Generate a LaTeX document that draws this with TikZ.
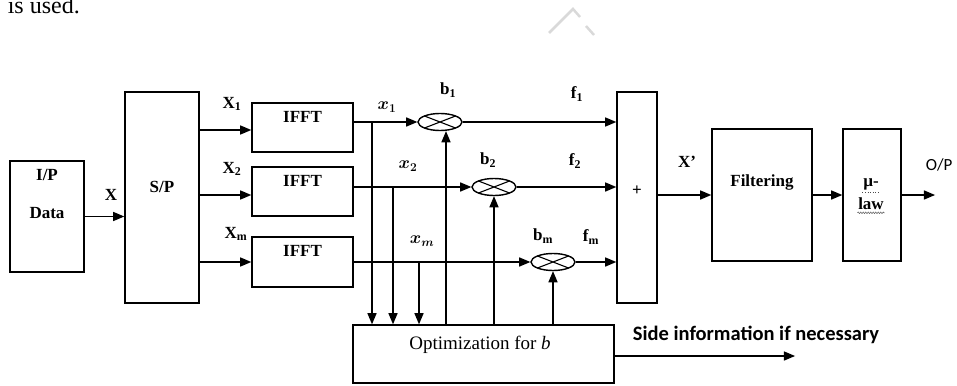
\documentclass[tikz,border=0pt]{standalone}
\usepackage{fontspec}
\setmainfont{Liberation Serif}
\newfontfamily\calfont{Carlito}
\usepackage{bm}
\usepackage{tikz}
\usetikzlibrary{arrows,positioning,shapes.geometric,decorations.pathmorphing}

\tikzset{
    box/.style={draw=black, line width=1.5pt, inner sep=0pt},
    txt/.style={inner sep=0pt, font=\fontsize{17}{20}\selectfont\bfseries},
    mult/.style={draw=black, ellipse, line width=1.4pt, inner sep=0pt,
        minimum width=44pt, minimum height=17pt,
        path picture={\draw[line width=1.1pt]
            (path picture bounding box.north west) -- (path picture bounding box.south east)
            (path picture bounding box.north east) -- (path picture bounding box.south west);}}
}

\begin{document}
\begin{tikzpicture}[x=1pt,y=-1pt]
\useasboundingbox (0,0) rectangle (957,385);
\begin{scope}[>=triangle 45,line width=1.6pt]

    \node[txt, font=\fontsize{24}{26}\selectfont, anchor=base west] (used) at (7,14) {is used.};
    \draw[black!15, line width=2.5pt] (549,33) -- (573,9) -- (580,17);
    \draw[black!15, line width=2.5pt] (586,26) -- (594,35);

    \node[box, minimum width=74pt, minimum height=111pt] (inp) at (47,216.5) {};
    \node[txt] (inplbl) at (47,175) {I/P};
    \node[txt] (datalbl) at (47,213) {Data};
    \node[box, minimum width=74pt, minimum height=211pt] (sp) at (162,197.5) {};
    \node[txt] (splbl) at (162,187) {S/P};
    \draw[->] (inp.east) -- (inp.east -| sp.west);
    \node[txt] (xlbl) at (111,195) {X};

    \node[box, minimum width=101pt, minimum height=49pt] (ifft1) at (302.5,127.5) {};
    \node[box, minimum width=101pt, minimum height=49pt] (ifft2) at (302.5,191.5) {};
    \node[box, minimum width=101pt, minimum height=50pt] (ifft3) at (302.5,262) {};
    \node[txt, below=8pt of ifft1.north] (ifftlbl1) {IFFT};
    \node[txt, below=8pt of ifft2.north] (ifftlbl2) {IFFT};
    \node[txt, below=8pt of ifft3.north] (ifftlbl3) {IFFT};
    \draw[->] ([yshift=-2.5pt]ifft1.west -| sp.east) -- ([yshift=-2.5pt]ifft1.west);
    \draw[->] ([yshift=-3.5pt]ifft2.west -| sp.east) -- ([yshift=-3.5pt]ifft2.west);
    \draw[->] (ifft3.west -| sp.east) -- (ifft3.west);
    \node[txt] (X1lbl) at (232,104) {X\textsubscript{1}};
    \node[txt] (X2lbl) at (232,169) {X\textsubscript{2}};
    \node[txt] (Xmlbl) at (236,234) {X\textsubscript{m}};

    \node[mult] (m1) at (440,122) {};
    \node[mult] (m2) at (494,187) {};
    \node[mult] (m3) at (553,262) {};
    \node[box, minimum width=40pt, minimum height=211pt] (sum) at (637,197.5) {};
    \node[txt] (sumlbl) at (637,191) {+};
    \draw[->] (m1.west -| ifft1.east) -- (m1.west);
    \draw[->] (m2.west -| ifft2.east) -- (m2.west);
    \draw[->] (m3.west -| ifft3.east) -- (m3.west);
    \draw[->] (m1.east) -- (m1.east -| sum.west);
    \draw[->] (m2.east) -- (m2.east -| sum.west);
    \draw[->] (m3.east) -- (m3.east -| sum.west);
    \node[txt] (x1lbl) at (387,107) {$\bm{x}_{\bm{1}}$};
    \node[txt] (x2lbl) at (408,166) {$\bm{x}_{\bm{2}}$};
    \node[txt] (xmlbl) at (422,241) {$\bm{x}_{\bm{m}}$};
    \node[txt] (b1lbl) at (448,90) {b\textsubscript{1}};
    \node[txt] (b2lbl) at (488,160) {b\textsubscript{2}};
    \node[txt] (bmlbl) at (543,236) {b\textsubscript{m}};
    \node[txt] (f1lbl) at (577,94) {f\textsubscript{1}};
    \node[txt] (f2lbl) at (575,161) {f\textsubscript{2}};
    \node[txt] (fmlbl) at (591,237) {f\textsubscript{m}};

    \node[box, minimum width=261pt, minimum height=58pt] (opt) at (483.5,354) {};
    \node[txt, font=\fontsize{19}{22}\selectfont] (optlbl) at (480,345) {Optimization for \textit{b}};
    \coordinate (tap1) at (372,122);
    \coordinate (tap2) at (393,187);
    \coordinate (tap3) at (419,262);
    \draw[->] (tap1) -- (tap1 |- opt.north);
    \draw[->] (tap2) -- (tap2 |- opt.north);
    \draw[->] (tap3) -- (tap3 |- opt.north);
    \draw[->] ([xshift=6pt]opt.north -| m1.south) -- ([xshift=6pt]m1.south);
    \draw[->] (opt.north -| m2.south) -- (m2.south);
    \draw[->] (opt.north -| m3.south) -- (m3.south);
    \coordinate (side) at (795,356);
    \draw[->] (opt.east |- side) -- (side);
    \node[txt, font=\fontsize{20.5}{23}\selectfont\calfont\bfseries] (sidelbl) at (756,335) {Side information if necessary};

    \node[box, minimum width=100pt, minimum height=132pt] (filt) at (762,195) {};
    \node[txt] (filtlbl) at (762,182) {Filtering};
    \node[box, minimum width=58pt, minimum height=132pt] (mulaw) at (872,195) {};
    \node[txt] (mulbl) at (871,184) {µ-};
    \node[txt] (lawlbl) at (871,204) {law};
    \draw[black!70, line width=0.6pt, dotted] ([yshift=-2pt]mulbl.south west) -- ([yshift=-2pt]mulbl.south east);
    \draw[black!70, line width=0.5pt, decorate, decoration={snake, amplitude=0.7pt, segment length=2.5pt}]
        ([yshift=-2pt]lawlbl.south west) -- ([yshift=-2pt]lawlbl.south east);
    \coordinate (out) at (935,195);
    \draw[->] (filt.west -| sum.east) -- (filt.west);
    \draw[->] (filt.east) -- (mulaw.west);
    \draw[->] (mulaw.east) -- (out);
    \node[txt] (xplbl) at (687,162) {X'};
    \node[txt, font=\fontsize{17}{20}\selectfont\calfont, anchor=west] (oplbl) at (925,165) {O/P};
\end{scope}
\end{tikzpicture}
\end{document}
